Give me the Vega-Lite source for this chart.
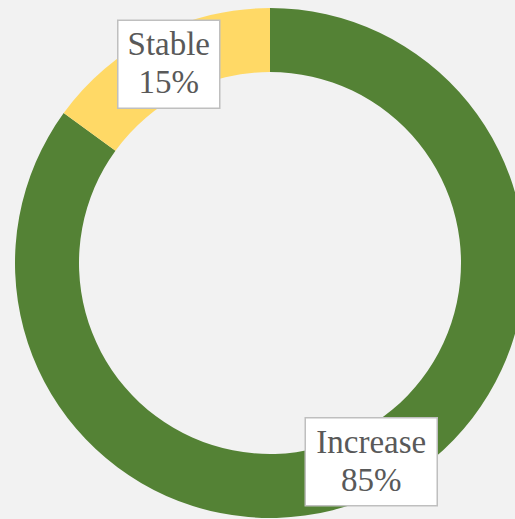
{
  "$schema": "https://vega.github.io/schema/vega-lite/v6.json",
  "width": 540,
  "height": 526,
  "padding": 0,
  "autosize": "none",
  "background": "#f2f2f2",
  "config": {"view": {"stroke": null}},
  "data": {"values": [
    {"category": "Increase", "value": 85},
    {"category": "Stable", "value": 15}
  ]},
  "layer": [
    {
      "mark": {"type": "arc", "outerRadius": 255, "innerRadius": 191},
      "encoding": {
        "theta": {"field": "value", "type": "quantitative", "stack": true},
        "order": {"field": "category", "sort": "ascending"},
        "color": {"field": "category", "type": "nominal", "legend": null,
          "scale": {"domain": ["Increase", "Stable"], "range": ["#548235", "#ffd966"]}}
      }
    },
    {
      "transform": [
        {"joinaggregate": [{"op": "sum", "field": "value", "as": "total"}]},
        {"window": [{"op": "sum", "field": "value", "as": "cum"}], "sort": [{"field": "category", "order": "ascending"}], "frame": [null, 0]},
        {"calculate": "2 * PI * (datum.cum - datum.value / 2) / datum.total", "as": "ang"},
        {"calculate": "223 * sin(datum.ang)", "as": "bx"},
        {"calculate": "223 * cos(datum.ang)", "as": "by"}
      ],
      "mark": {"type": "point", "filled": true, "fill": "white", "stroke": "#bfbfbf", "strokeWidth": 1.5, "opacity": 1, "size": 17424},
      "encoding": {
        "x": {"field": "bx", "type": "quantitative", "axis": null, "scale": {"domain": [-270, 270], "nice": false, "zero": false}},
        "y": {"field": "by", "type": "quantitative", "axis": null, "scale": {"domain": [-263, 263], "nice": false, "zero": false}},
        "shape": {"field": "category", "type": "nominal", "legend": null,
          "scale": {"domain": ["Increase", "Stable"], "range": ["M-1,-0.6667L1,-0.6667L1,0.6667L-1,0.6667Z", "M-0.7727,-0.6667L0.7727,-0.6667L0.7727,0.6667L-0.7727,0.6667Z"]}}
      }
    },
    {
      "transform": [
        {"calculate": "datum.category + '\\n' + datum.value + '%'", "as": "label"}
      ],
      "mark": {"type": "text", "radius": 223, "font": "Liberation Serif", "fontSize": 33, "lineHeight": 38, "lineBreak": "\n", "color": "#595959", "align": "center", "baseline": "middle", "dy": -19},
      "encoding": {
        "theta": {"field": "value", "type": "quantitative", "stack": true},
        "order": {"field": "category", "sort": "ascending"},
        "text": {"field": "label"}
      }
    }
  ]
}
